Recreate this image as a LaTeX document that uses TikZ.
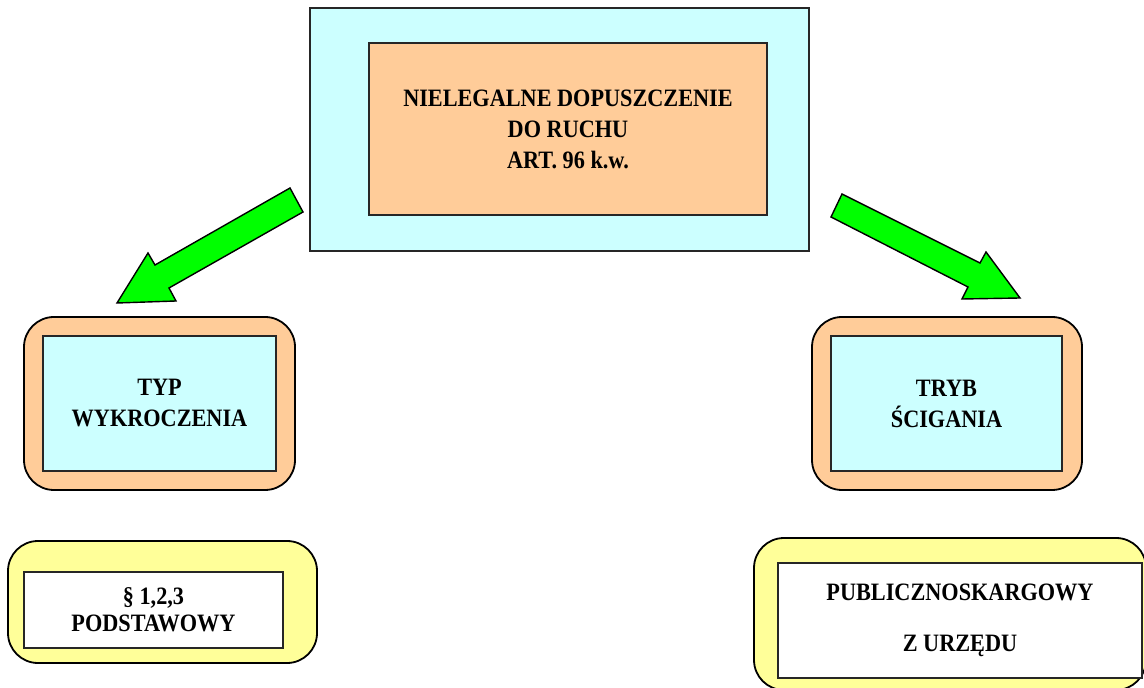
\documentclass[tikz,border=0pt]{standalone}
\usepackage{fontspec}
\setmainfont{Liberation Serif}[FakeStretch=0.89]
\definecolor{lcyan}{HTML}{CCFFFF}
\definecolor{peach}{HTML}{FFCC99}
\definecolor{lyellow}{HTML}{FFFF99}
\definecolor{lgreen}{HTML}{00FF00}
\tikzset{
	box/.style={draw=black!85,line width=0.6pt,inner sep=0pt,align=center,
		font=\bfseries\fontsize{12.5}{15.5}\selectfont},
	rbox/.style={box,draw=black,rounded corners=15pt,line width=0.9pt},
	bigarrow/.style={draw=black,fill=lgreen,line width=0.7pt,line join=miter}
}
\begin{document}
\begin{tikzpicture}[x=0.5pt,y=-0.5pt]
	\useasboundingbox (0,0) rectangle (1144,688);
	\node[box,fill=lcyan,minimum width=249.5pt,minimum height=121.5pt] (art) at (559.5,129.5) {};
	\node[box,fill=peach,minimum width=199pt,minimum height=86pt] (title) at (568,129) {NIELEGALNE DOPUSZCZENIE\\DO RUCHU\\ART. 96 k.w.};
	\draw[bigarrow] (290,188)--(303,212)--(169,288)--(176,301)--(117,303)--(148,253)--(155,265)--cycle;
	\draw[bigarrow] (842,194)--(831,217)--(968,287)--(962,299)--(1020,298)--(986,252)--(980,263)--cycle;
	\node[rbox,fill=peach,minimum width=135.5pt,minimum height=86.5pt] (typfr) at (159.5,403.5) {};
	\node[box,fill=lcyan,minimum width=116.5pt,minimum height=67.5pt] (typ) at (159.5,403.5) {TYP\\WYKROCZENIA};
	\node[rbox,fill=peach,minimum width=135pt,minimum height=86.5pt] (trybfr) at (947,403.5) {};
	\node[box,fill=lcyan,minimum width=115.5pt,minimum height=67.5pt] (tryb) at (946.5,403.5) {TRYB\\ŚCIGANIA};
	\node[rbox,fill=lyellow,minimum width=154.5pt,minimum height=61pt] (podfr) at (162.5,602) {};
	\node[box,fill=white,minimum width=129.5pt,minimum height=38pt] (pod) at (153.5,610) {§ 1,2,3\\[-2pt]PODSTAWOWY};
	\node[rbox,fill=lyellow,minimum width=196pt,minimum height=76pt] (pubfr) at (950,614) {};
	\node[box,fill=white,minimum width=182pt,minimum height=57.5pt] (pub) at (960,620.5) {PUBLICZNOSKARGOWY\\[10pt]Z URZĘDU};
\end{tikzpicture}
\end{document}
